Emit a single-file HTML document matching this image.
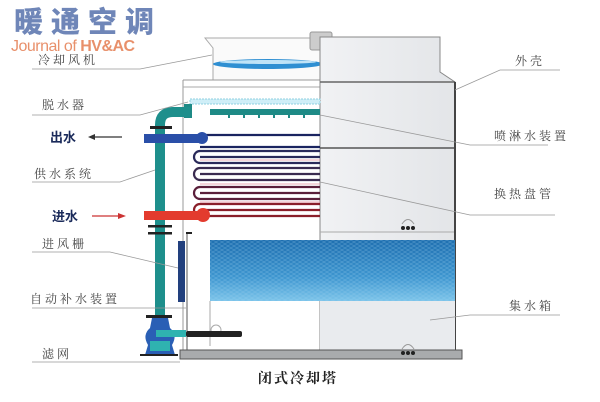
<!DOCTYPE html>
<html><head><meta charset="utf-8"><style>
html,body{margin:0;padding:0;background:#fff;width:600px;height:402px;overflow:hidden}
svg{display:block}
.l{font-family:"Liberation Serif","Noto Serif CJK SC",serif;font-size:12px;fill:#444;letter-spacing:3px}
</style></head><body>
<svg width="600" height="402" viewBox="0 0 600 402" xmlns="http://www.w3.org/2000/svg">
<defs>
<linearGradient id="fill" x1="0" y1="0" x2="0" y2="1">
<stop offset="0" stop-color="#1f6fb0"/><stop offset="0.6" stop-color="#3d95cf"/><stop offset="1" stop-color="#7cc4ea"/></linearGradient>
<pattern id="hx" width="6" height="4" patternUnits="userSpaceOnUse"><path d="M0 2 L3 0 L6 2 L3 4Z" fill="none" stroke="#9fd3f0" stroke-width="0.4" opacity="0.6"/></pattern>
<linearGradient id="pan" x1="0" y1="0" x2="1" y2="0"><stop offset="0" stop-color="#f1f2f4"/><stop offset="1" stop-color="#e3e5e8"/></linearGradient>
</defs>
<!-- logo -->
<text x="14" y="32" font-family="Liberation Sans,Noto Sans CJK SC,sans-serif" font-weight="900" font-size="29" fill="#6f86b8" letter-spacing="8">暖通空调</text>
<text x="11" y="51" font-family="Liberation Sans,sans-serif" font-size="16" fill="#e8906b" letter-spacing="-0.5">Journal of <tspan font-weight="bold">HV&amp;AC</tspan></text>
<!-- top housing -->
<path d="M205 38 L320 38 L320 80 L213 80 L213 48 Z" fill="#fafafa" stroke="#aaa" stroke-width="1"/>
<line x1="183" y1="80" x2="183" y2="355" stroke="#999"/>
<line x1="183" y1="80" x2="320" y2="80" stroke="#999"/>
<line x1="183" y1="87" x2="320" y2="87" stroke="#aaa"/>
<rect x="310" y="32" width="22" height="18" rx="2" fill="#ccc" stroke="#999"/>
<ellipse cx="268" cy="64" rx="55" ry="5" fill="#2f8fd2"/>
<ellipse cx="268" cy="62" rx="48" ry="2" fill="#bfe3f7"/>
<!-- right panel -->
<path d="M320 37 L440 37 L440 72 L455 82 L455 350 L320 350 Z" fill="url(#pan)" stroke="#888"/>
<line x1="320" y1="82" x2="455" y2="82" stroke="#666" stroke-width="1.5"/>
<line x1="320" y1="148" x2="455" y2="148" stroke="#555" stroke-width="1.5"/>
<line x1="320" y1="232" x2="455" y2="232" stroke="#aaa"/>
<line x1="455" y1="82" x2="455" y2="350" stroke="#444" stroke-width="2"/>
<!-- drift eliminator band -->
<rect x="190" y="99" width="130" height="5" fill="#cfeef7" stroke="#8fd0e0" stroke-dasharray="2 1"/>
<!-- spray pipe -->
<rect x="210" y="109" width="110" height="6" fill="#1e8a86"/>
<g fill="#1e8a86"><rect x="228" y="115" width="2" height="3"/><rect x="243" y="115" width="2" height="3"/><rect x="258" y="115" width="2" height="3"/><rect x="273" y="115" width="2" height="3"/><rect x="288" y="115" width="2" height="3"/><rect x="303" y="115" width="2" height="3"/></g>
<rect x="184" y="104" width="8" height="14" fill="#1e8a86"/>
<!-- coils -->
<g fill="none" stroke-width="2.2">
<path d="M320 135 L200 135" stroke="#1a2460"/>
<path d="M320 147 L200 147" stroke="#1a2460"/>
<path d="M320 151 L200 151 A6 6 0 0 0 200 163 L320 163 M320 157 L200 157" stroke="#2a2a5a"/>
<path d="M320 168 L200 168 A6 6 0 0 0 200 180 L320 180 M320 174 L200 174" stroke="#3a2b50"/>
<path d="M320 187 L200 187 A6 6 0 0 0 200 199 L320 199 M320 193 L200 193" stroke="#5a1f3a"/>
<path d="M320 204 L200 204 A6 6 0 0 0 200 216 L320 216 M320 210 L200 210" stroke="#8a1f2a"/>
</g>
<g stroke="#e38b98" stroke-width="1" fill="none" opacity="0.7">
<line x1="200" y1="160" x2="320" y2="160"/><line x1="200" y1="184" x2="320" y2="184"/><line x1="200" y1="202" x2="320" y2="202"/></g>
<!-- teal vertical supply -->
<path d="M160 345 L160 125 Q160 112 173 112 L190 112" fill="none" stroke="#1e8f8c" stroke-width="10"/>
<rect x="150" y="126" width="22" height="3" fill="#222"/>
<rect x="148" y="225" width="24" height="2.5" fill="#222"/>
<rect x="148" y="232" width="24" height="2.5" fill="#222"/>
<rect x="148" y="213" width="24" height="2.5" fill="#222"/>
<!-- outlet -->
<rect x="144" y="134" width="56" height="9" fill="#2a4fa8"/>
<circle cx="202" cy="138" r="6" fill="#2a4fa8"/>
<text x="50" y="142" font-family="Liberation Sans,Noto Sans CJK SC,sans-serif" font-weight="bold" font-size="13" fill="#1a2a5a">出水</text>
<line x1="92" y1="137" x2="122" y2="137" stroke="#333" stroke-width="1.3"/>
<path d="M88 137 L95 134 L95 140Z" fill="#333"/>
<!-- inlet -->
<rect x="144" y="211" width="56" height="9" fill="#e33b2e"/>
<circle cx="203" cy="215" r="7" fill="#e33b2e"/>
<text x="52" y="221" font-family="Liberation Sans,Noto Sans CJK SC,sans-serif" font-weight="bold" font-size="13" fill="#1a2a5a">进水</text>
<line x1="92" y1="216" x2="122" y2="216" stroke="#c33" stroke-width="1.3"/>
<path d="M126 216 L118 213 L118 219Z" fill="#c33"/>
<!-- fill -->
<rect x="210" y="240" width="245" height="61" fill="url(#fill)"/>
<rect x="210" y="240" width="245" height="61" fill="url(#hx)"/>
<rect x="320" y="301" width="135" height="49" fill="#e9ebee"/>
<line x1="187" y1="232" x2="187" y2="355" stroke="#555"/>
<rect x="186" y="232" width="6" height="2" fill="#222"/>
<rect x="178" y="241" width="7" height="61" fill="#22407e"/>
<line x1="210" y1="301" x2="210" y2="346" stroke="#aaa"/>
<circle cx="216" cy="330" r="5" fill="none" stroke="#aaa"/>
<!-- pump -->
<rect x="146" y="315" width="26" height="3" fill="#222"/>
<path d="M152 318 L168 318 L170 328 Q178 335 172 345 L175 355 L145 355 L148 345 Q142 335 150 328 Z" fill="#2a5fb5"/>
<rect x="150" y="341" width="20" height="10" fill="#2fb3b0"/>
<rect x="156" y="330" width="30" height="7" fill="#2fb3b0"/>
<rect x="186" y="331" width="56" height="6" rx="2" fill="#222"/>
<rect x="140" y="354" width="38" height="2" fill="#222"/>
<!-- base -->
<rect x="180" y="350" width="282" height="9" fill="#a9abad" stroke="#555"/>
<g fill="#222"><circle cx="403" cy="353" r="2"/><circle cx="408" cy="353" r="2"/><circle cx="413" cy="353" r="2"/>
<circle cx="403" cy="228" r="2"/><circle cx="408" cy="228" r="2"/><circle cx="413" cy="228" r="2"/></g>
<path d="M402 349 Q408 340 414 349" fill="none" stroke="#999"/>
<path d="M402 224 Q408 215 414 224" fill="none" stroke="#999"/>
<!-- labels left -->
<g stroke="#999" stroke-width="0.8" fill="none">
<path d="M32 69 L140 69 L212 55"/>
<path d="M32 115 L140 115 L188 102"/>
<path d="M32 182 L120 182 L155 170"/>
<path d="M32 252 L110 252 L178 268"/>
<path d="M32 308 L160 308 L186 308"/>
<path d="M32 362 L180 362"/>
<path d="M560 70 L500 70 L455 90"/>
<path d="M548 145 L470 145 L320 115"/>
<path d="M555 215 L470 215 L320 182"/>
<path d="M560 315 L470 315 L430 320"/>
</g>
<text class="l" x="38" y="64">冷却风机</text>
<text class="l" x="42" y="109">脱水器</text>
<text class="l" x="34" y="178">供水系统</text>
<text class="l" x="42" y="248">进风栅</text>
<text class="l" x="30" y="303">自动补水装置</text>
<text class="l" x="42" y="358">滤网</text>
<text class="l" x="515" y="65">外壳</text>
<text class="l" x="494" y="140">喷淋水装置</text>
<text class="l" x="494" y="198">换热盘管</text>
<text class="l" x="509" y="310">集水箱</text>
<text x="258" y="383" font-family="Liberation Serif,Noto Serif CJK SC,serif" font-weight="bold" font-size="14" fill="#222" letter-spacing="2">闭式冷却塔</text>
</svg>
</body></html>
